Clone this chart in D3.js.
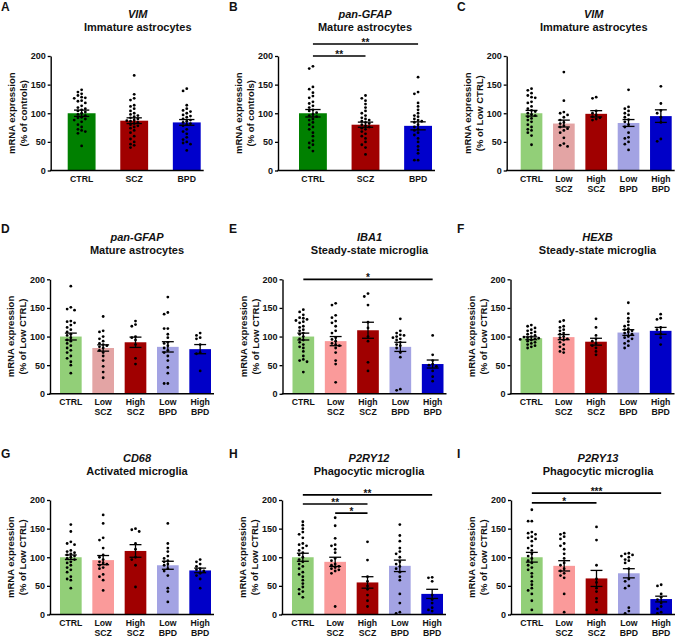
<!DOCTYPE html>
<html lang="en">
<head>
<meta charset="utf-8">
<title>mRNA expression panels</title>
<script src="https://cdn.jsdelivr.net/npm/d3@7"></script>
<style>
body { margin: 0; background: #fff; }
text { font-family: "Liberation Sans", Arial, sans-serif; font-weight: bold; fill: #111; }
</style>
</head>
<body>
<script>

// categories and ticks
var groups3 = ["CTRL", "SCZ", "BPD"];
var groups5 = ["CTRL", "Low SCZ", "High SCZ", "Low BPD", "High BPD"];
var yTicks = [0, 50, 100, 150, 200];

// A - VIM, 3 groups
var vimMean = [100, 87, 84];
var vimSem = [5.5, 5, 5];
var vimDots = [
	[141, 137, 134, 131, 128, 127, 126, 122, 121, 118, 113, 110, 108, 106, 104, 102, 100, 98, 96, 93, 92, 90, 88, 85, 80, 76, 72, 70, 68, 65, 43],
	[166, 133, 126, 123, 114, 112, 108, 104, 100, 98, 96, 94, 92, 90, 88, 87, 86, 84, 82, 80, 78, 76, 74, 70, 66, 60, 55, 50, 46, 44, 40],
	[143, 139, 114, 108, 105, 103, 100, 97, 95, 93, 90, 88, 86, 84, 82, 80, 78, 72, 68, 64, 58, 54, 50, 48, 46, 35]
];

// B - pan-GFAP, 3 groups
var gfapMean = [100, 80, 78];
var gfapSem = [6.5, 4.5, 7];
var gfapDots = [
	[182, 178, 146, 142, 136, 130, 127, 120, 117, 113, 110, 106, 104, 101, 98, 96, 94, 90, 88, 84, 80, 76, 72, 66, 60, 52, 48, 45, 40, 34],
	[131, 126, 122, 116, 110, 104, 100, 96, 92, 90, 88, 86, 84, 82, 80, 78, 76, 74, 72, 68, 64, 60, 56, 50, 45, 40, 28],
	[163, 137, 134, 118, 112, 106, 100, 96, 94, 90, 88, 86, 84, 80, 76, 72, 70, 66, 62, 56, 50, 42, 36, 30, 18, 18]
];
var gfapSig = [[0, 1, "**", 200], [0, 2, "**", 221]];

// C - VIM by subgroup
var vimSubMean = [100, 82, 99, 83, 95];
var vimSubSem = [5, 6, 5.5, 6, 11];
var vimSubDots = [
	[143, 140, 135, 131, 128, 127, 120, 118, 112, 108, 105, 103, 100, 98, 96, 94, 91, 88, 85, 80, 76, 72, 70, 66, 61, 45],
	[172, 122, 102, 100, 97, 93, 88, 84, 82, 78, 76, 73, 70, 66, 57, 47, 44, 42],
	[128, 126, 104, 100, 97, 94, 92, 90, 88],
	[141, 111, 108, 104, 100, 97, 93, 89, 85, 80, 76, 66, 58, 56, 50, 46, 36],
	[147, 117, 105, 100, 93, 84, 55, 51]
];

// D - pan-GFAP by subgroup
var gfapSubMean = [100, 80, 90, 82, 78];
var gfapSubSem = [6, 5.5, 9, 9, 8];
var gfapSubDots = [
	[188, 151, 148, 146, 127, 126, 124, 120, 116, 112, 108, 104, 102, 98, 94, 92, 88, 84, 80, 76, 72, 66, 62, 56, 50, 36],
	[135, 110, 108, 100, 96, 92, 88, 86, 84, 82, 80, 76, 72, 66, 58, 48, 38, 28],
	[127, 121, 118, 100, 98, 94, 86, 62, 52],
	[169, 142, 139, 114, 114, 104, 98, 90, 88, 84, 80, 76, 72, 66, 58, 46, 36, 18, 18],
	[106, 102, 98, 96, 86, 72, 70, 40]
];

// E - IBA1
var iba1Mean = [100, 92, 111, 82, 52];
var iba1Sem = [6, 8, 14, 8, 7];
var iba1Dots = [
	[147, 143, 138, 133, 132, 130, 128, 126, 124, 118, 116, 112, 110, 106, 104, 100, 96, 94, 90, 86, 82, 80, 74, 66, 60, 58, 56, 38],
	[158, 155, 137, 133, 127, 124, 118, 110, 106, 98, 95, 92, 88, 86, 84, 80, 72, 58, 52, 20],
	[175, 170, 155, 125, 115, 100, 92, 55, 40],
	[131, 110, 106, 103, 102, 100, 98, 96, 94, 90, 86, 84, 80, 72, 64, 8, 6],
	[102, 68, 58, 52, 50, 48, 40, 30, 22]
];
var iba1Sig = [[0, 4, "*", 200]];

// F - HEXB
var hexbMean = [97, 99, 91, 107, 110];
var hexbSem = [2.5, 4.5, 6, 5, 6];
var hexbDots = [
	[120, 118, 115, 112, 110, 108, 106, 104, 102, 100, 99, 98, 97, 96, 95, 94, 92, 90, 88, 86, 84, 82, 80],
	[128, 126, 118, 116, 112, 110, 106, 104, 100, 98, 96, 94, 90, 86, 82, 78, 74, 72],
	[131, 116, 102, 96, 92, 88, 84, 80, 74, 68],
	[159, 140, 132, 126, 120, 118, 114, 112, 110, 108, 106, 104, 100, 98, 96, 92, 88, 84, 80],
	[139, 132, 130, 116, 112, 104, 98, 86]
];

// G - CD68
var cd68Mean = [100, 95, 111, 86, 77];
var cd68Sem = [4, 8, 11, 7, 4];
var cd68Dots = [
	[157, 145, 127, 124, 122, 112, 110, 108, 106, 104, 102, 100, 98, 96, 92, 90, 86, 82, 78, 74, 66, 62, 60, 46],
	[174, 159, 134, 130, 116, 104, 100, 96, 92, 90, 88, 86, 82, 80, 70, 66, 60, 42],
	[150, 148, 145, 124, 114, 100, 96, 86, 48],
	[159, 124, 116, 110, 102, 98, 94, 92, 88, 86, 80, 76, 68, 46, 40, 22],
	[96, 92, 88, 84, 80, 78, 76, 72, 68, 62, 46]
];

// H - P2RY12
var p2ry12Mean = [100, 92, 56, 85, 36];
var p2ry12Sem = [7, 8, 10, 10, 8];
var p2ry12Dots = [
	[162, 156, 150, 144, 140, 134, 124, 122, 120, 116, 112, 108, 104, 100, 96, 92, 88, 84, 80, 74, 70, 66, 60, 54, 48, 44, 40, 36, 30],
	[169, 155, 133, 122, 120, 114, 108, 98, 94, 88, 86, 84, 82, 80, 78, 76, 72, 14],
	[127, 95, 66, 58, 50, 44, 34, 24, 14],
	[157, 138, 128, 116, 110, 106, 100, 92, 88, 84, 80, 74, 66, 60, 36, 20, 4, 2],
	[65, 64, 58, 34, 26, 20, 12, 8, 6]
];
var p2ry12Sig = [[1, 2, "*", 177], [0, 2, "**", 193], [0, 4, "**", 209]];

// I - P2RY13
var p2ry13Mean = [100, 85, 63, 72, 27];
var p2ry13Sem = [8.5, 9, 14, 8, 5];
var p2ry13Dots = [
	[183, 163, 163, 144, 142, 140, 136, 134, 132, 128, 120, 116, 112, 106, 102, 98, 94, 90, 86, 82, 78, 72, 66, 58, 52, 46, 42, 36, 24, 8],
	[142, 140, 136, 132, 124, 120, 114, 106, 98, 90, 86, 80, 76, 72, 68, 64, 36, 4],
	[153, 130, 86, 62, 56, 46, 40, 28, 22, 8],
	[107, 106, 104, 102, 100, 96, 94, 90, 80, 62, 58, 50, 46, 12, 6, 2],
	[52, 50, 36, 30, 26, 20, 14, 10, 4, 2]
];
var p2ry13Sig = [[0, 2, "*", 195], [0, 4, "***", 212]];

// colours
var colors3 = ["#008000", "#a00000", "#0000cc"];
var colors5 = ["#92cf78", "#fa9a9a", "#a00000", "#a3a3e3", "#0000c8"];
var colors5b = ["#92cf78", "#e3a4a4", "#a00000", "#a3a3e3", "#0000c8"];

var ctrlLab = "(% of controls)";
var lowLab = "(% of Low CTRL)";

var panels = [
	{letter: "A", gene: "VIM", cell: "Immature astrocytes", ylab: ctrlLab, groups: groups3, colors: colors3, mean: vimMean, sem: vimSem, dots: vimDots, sig: [], col: 0, row: 0, x0: 50.7, bx: 17},
	{letter: "B", gene: "pan-GFAP", cell: "Mature astrocytes", ylab: ctrlLab, groups: groups3, colors: colors3, mean: gfapMean, sem: gfapSem, dots: gfapDots, sig: gfapSig, col: 1, row: 0, x0: 278, bx: 21},
	{letter: "C", gene: "VIM", cell: "Immature astrocytes", ylab: lowLab, groups: groups5, colors: colors5b, mean: vimSubMean, sem: vimSubSem, dots: vimSubDots, sig: [], col: 2, row: 0, x0: 506.7, bx: 14},
	{letter: "D", gene: "pan-GFAP", cell: "Mature astrocytes", ylab: lowLab, groups: groups5, colors: colors5b, mean: gfapSubMean, sem: gfapSubSem, dots: gfapSubDots, sig: [], col: 0, row: 1, x0: 50, bx: 10},
	{letter: "E", gene: "IBA1", cell: "Steady-state microglia", ylab: lowLab, groups: groups5, colors: colors5, mean: iba1Mean, sem: iba1Sem, dots: iba1Dots, sig: iba1Sig, col: 1, row: 1, x0: 282.5, bx: 10},
	{letter: "F", gene: "HEXB", cell: "Steady-state microglia", ylab: lowLab, groups: groups5, colors: colors5, mean: hexbMean, sem: hexbSem, dots: hexbDots, sig: [], col: 2, row: 1, x0: 510.5, bx: 10},
	{letter: "G", gene: "CD68", cell: "Activated microglia", ylab: lowLab, groups: groups5, colors: colors5, mean: cd68Mean, sem: cd68Sem, dots: cd68Dots, sig: [], col: 0, row: 2, x0: 50, bx: 10},
	{letter: "H", gene: "P2RY12", cell: "Phagocytic microglia", ylab: lowLab, groups: groups5, colors: colors5, mean: p2ry12Mean, sem: p2ry12Sem, dots: p2ry12Dots, sig: p2ry12Sig, col: 1, row: 2, x0: 282, bx: 10},
	{letter: "I", gene: "P2RY13", cell: "Phagocytic microglia", ylab: lowLab, groups: groups5, colors: colors5, mean: p2ry13Mean, sem: p2ry13Sem, dots: p2ry13Dots, sig: p2ry13Sig, col: 2, row: 2, x0: 511, bx: 10}
];

var colX = [1, 229, 457];
var rowTop = [56, 279.3, 500];
var letterY = [10.5, 233, 458];
var plotH = 114.5;
var dotR = 1.4;

var svg = d3.select("body").append("svg")
	.attr("width", 685)
	.attr("height", 637);

svg.append("rect").attr("width", 685).attr("height", 637).attr("fill", "#fff");

// spread overlapping points sideways, like a bee swarm
function swarm(vals, y, r) {
	var placed = [], step = 2 * r + 0.9, minD = 2 * r + 0.5;
	vals.slice().sort(d3.descending).forEach(function(v) {
		var cy = y(v), dx = 0;
		for (var k = 0; k < 40; k++) {
			dx = (k % 2 ? -1 : 1) * Math.ceil(k / 2) * step;
			var ok = placed.every(function(q) {
				var a = q.dx - dx, b = q.cy - cy;
				return a * a + b * b >= minD * minD;
			});
			if (ok) break;
		}
		placed.push({dx: dx, cy: cy});
	});
	return placed;
}

panels.forEach(function(p) {
	var yTop = rowTop[p.row], yBot = yTop + plotH;
	var n = p.groups.length;
	var span = n === 3 ? 133 : 151;
	var axisLen = p.bx + span + 3;

	var y = d3.scaleLinear().domain([0, 200]).range([yBot, yTop]);
	var x = d3.scaleBand()
		.domain(p.groups)
		.range([p.x0 + p.bx, p.x0 + p.bx + span])
		.paddingInner(n === 3 ? 0.47 : 0.33)
		.paddingOuter(0);
	var bw = x.bandwidth();
	var cx = function(i) { return x(p.groups[i]) + bw / 2; };

	var g = svg.append("g");

	// panel letter
	g.append("text")
		.attr("x", colX[p.col])
		.attr("y", letterY[p.row])
		.style("font-size", "12px")
		.text(p.letter);

	// title
	g.append("text")
		.attr("x", p.x0 + 87)
		.attr("y", yTop - 38)
		.attr("text-anchor", "middle")
		.style("font-size", "11px")
		.style("font-style", "italic")
		.text(p.gene);
	g.append("text")
		.attr("x", p.x0 + 87)
		.attr("y", yTop - 25)
		.attr("text-anchor", "middle")
		.style("font-size", "11px")
		.text(p.cell);

	// y label, two lines
	[["mRNA expression", -39], [p.ylab, -27]].forEach(function(l) {
		g.append("text")
			.attr("transform", "translate(" + (p.x0 + l[1]) + "," + (yTop + yBot) / 2 + ") rotate(-90)")
			.attr("text-anchor", "middle")
			.attr("dy", "0.35em")
			.style("font-size", "9.5px")
			.text(l[0]);
	});

	// bars
	g.selectAll("rect.bar")
		.data(p.groups)
		.enter()
		.append("rect")
		.attr("class", "bar")
		.attr("x", function(d) { return x(d); })
		.attr("width", bw)
		.attr("y", function(d, i) { return y(p.mean[i]); })
		.attr("height", function(d, i) { return yBot - y(p.mean[i]); })
		.attr("fill", function(d, i) { return p.colors[i]; });

	// points
	p.dots.forEach(function(vals, i) {
		var c = cx(i);
		g.selectAll(null)
			.data(swarm(vals, y, dotR))
			.enter()
			.append("circle")
			.attr("cx", function(d) { return c + d.dx; })
			.attr("cy", function(d) { return d.cy; })
			.attr("r", dotR)
			.attr("fill", "#000");
	});

	// error bars (SEM)
	var capW = bw * 0.55;
	p.mean.forEach(function(m, i) {
		var c = cx(i), lo = y(m - p.sem[i]), hi = y(m + p.sem[i]);
		var eb = g.append("g").attr("stroke", "#000").attr("stroke-width", 1.3);
		eb.append("line").attr("x1", c).attr("x2", c).attr("y1", lo).attr("y2", hi);
		eb.append("line").attr("x1", c - capW / 2).attr("x2", c + capW / 2).attr("y1", lo).attr("y2", lo);
		eb.append("line").attr("x1", c - capW / 2).attr("x2", c + capW / 2).attr("y1", hi).attr("y2", hi);
	});

	// y axis
	var ya = g.append("g")
		.attr("transform", "translate(" + p.x0 + ",0)")
		.call(d3.axisLeft(y).tickValues(yTicks).tickSize(3).tickSizeOuter(0).tickPadding(2));
	ya.select(".domain").attr("stroke-width", 1.4);
	ya.selectAll(".tick line").attr("stroke-width", 1.3);
	ya.selectAll("text").style("font-size", "9px").attr("font-family", null);

	// x axis
	var xa = g.append("g")
		.attr("transform", "translate(0," + yBot + ")")
		.call(d3.axisBottom(x).tickSize(0).tickPadding(5.5));
	xa.select(".domain").remove();
	xa.selectAll("text")
		.attr("font-family", null)
		.style("font-size", "8.7px")
		.each(function(d) {
			var t = d3.select(this), parts = d.split(" ");
			t.text(null);
			parts.forEach(function(s, k) {
				t.append("tspan").attr("x", 0).attr("dy", k === 0 ? "0.71em" : "1.08em").text(s);
			});
		});
	g.append("line")
		.attr("x1", p.x0 - 0.7)
		.attr("x2", p.x0 + axisLen)
		.attr("y1", yBot)
		.attr("y2", yBot)
		.attr("stroke", "#000")
		.attr("stroke-width", 1.4);

	// significance bars
	p.sig.forEach(function(s) {
		var ly = y(s[3]);
		g.append("line")
			.attr("x1", cx(s[0]))
			.attr("x2", cx(s[1]))
			.attr("y1", ly)
			.attr("y2", ly)
			.attr("stroke", "#000")
			.attr("stroke-width", 1.7);
		g.append("text")
			.attr("x", (cx(s[0]) + cx(s[1])) / 2)
			.attr("y", ly + 2)
			.attr("text-anchor", "middle")
			.style("font-size", "10px")
			.text(s[2]);
	});
});

</script>
</body>
</html>
